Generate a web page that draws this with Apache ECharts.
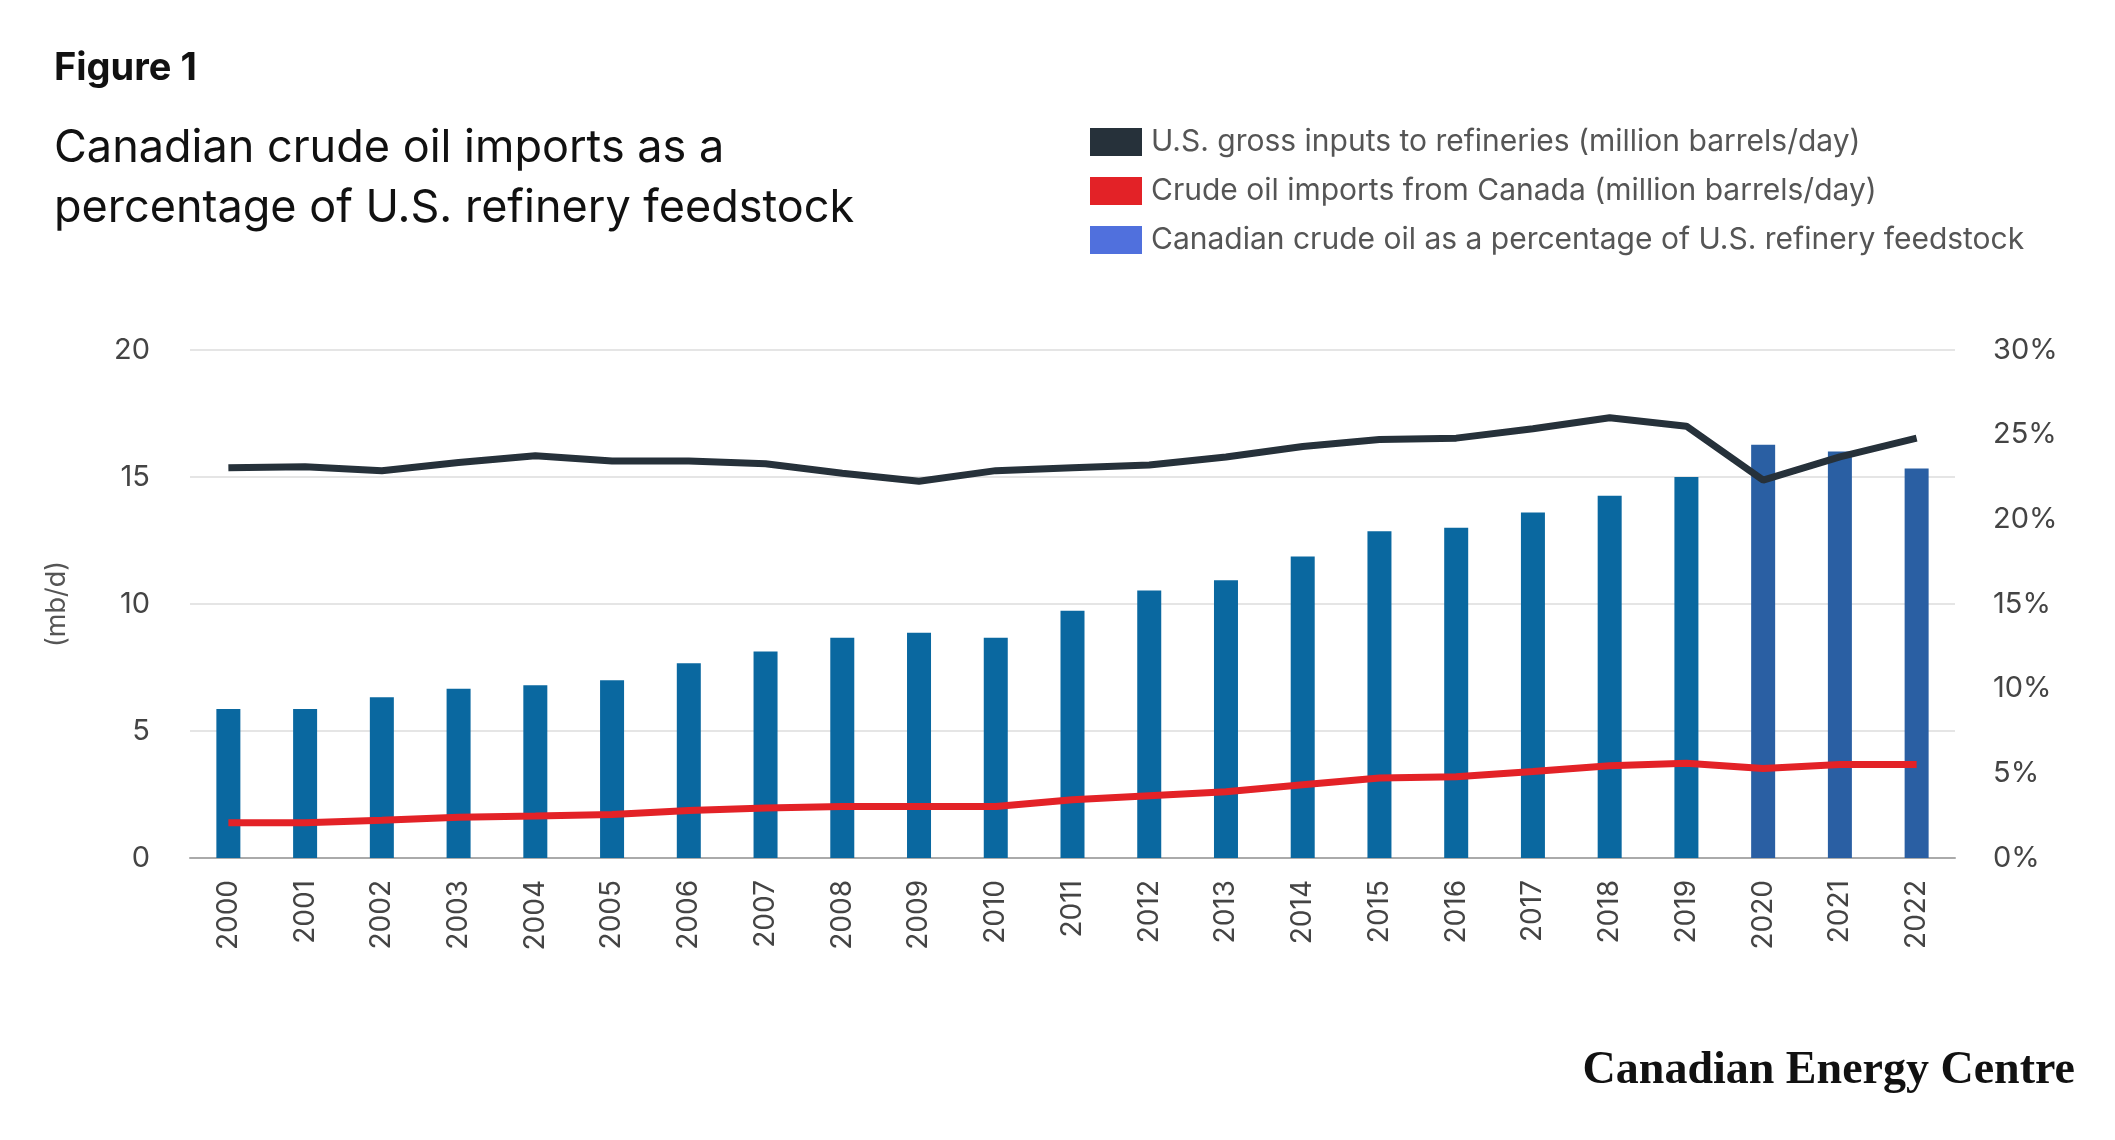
<!DOCTYPE html>
<html>
<head>
<meta charset="utf-8">
<script src="https://cdn.jsdelivr.net/npm/echarts@6/dist/echarts.min.js"></script>
<style>
html, body { margin: 0; padding: 0; background: #fff; }
#chart { width: 2115px; height: 1140px; }
</style>
</head>
<body>
<div id="chart"></div>
<script>
var years = ["2000","2001","2002","2003","2004","2005","2006","2007","2008","2009","2010","2011","2012","2013","2014","2015","2016","2017","2018","2019","2020","2021","2022"];
// U.S. gross inputs to refineries (mb/d)
var grossInputs = [15.36,15.4,15.25,15.57,15.84,15.63,15.63,15.52,15.15,14.83,15.25,15.36,15.47,15.79,16.2,16.48,16.53,16.9,17.33,17.0,14.88,15.79,16.53];
// crude oil imports from Canada (mb/d)
var canadaImports = [1.39,1.39,1.49,1.6,1.65,1.71,1.87,1.97,2.03,2.03,2.03,2.29,2.45,2.61,2.88,3.15,3.2,3.41,3.63,3.73,3.52,3.68,3.68];
// Canadian share of feedstock (%)
var sharePct = [8.8,8.8,9.5,10.0,10.2,10.5,11.5,12.2,13.0,13.3,13.0,14.6,15.8,16.4,17.8,19.3,19.5,20.4,21.4,22.5,24.4,24.0,23.0];

var chart = echarts.init(document.getElementById('chart'));
var font = 'Inter, "Noto Sans", sans-serif';

var option = {
    animation: false,
    textStyle: { fontFamily: font },
    graphic: [
        { type: 'text', left: 54, top: 50, style: { text: 'Figure 1', fontSize: 38, fontWeight: 'bold', fill: '#111', fontFamily: font } },
        { type: 'text', left: 54, top: 118, style: { text: 'Canadian crude oil imports as a\npercentage of U.S. refinery feedstock', fontSize: 45, lineHeight: 60, fill: '#111', fontFamily: font } },
        { type: 'text', right: 40, top: 1048, style: { text: 'Canadian Energy Centre', fontSize: 46, fontWeight: 'bold', fill: '#111', fontFamily: '"Liberation Serif", "DejaVu Serif", serif' } }
    ],
    legend: {
        orient: 'vertical',
        left: 1085,
        top: 122,
        itemWidth: 52,
        itemHeight: 28,
        itemGap: 19,
        icon: 'rect',
        textStyle: { fontSize: 30, color: '#555', fontFamily: font, padding: [0, 0, 0, 4] },
        data: ['U.S. gross inputs to refineries (million barrels/day)', 'Crude oil imports from Canada (million barrels/day)', 'Canadian crude oil as a percentage of U.S. refinery feedstock']
    },
    grid: { left: 190, right: 160, top: 350, bottom: 282 },
    xAxis: {
        type: 'category',
        data: years,
        axisTick: { show: false },
        axisLine: { lineStyle: { color: '#aaa', width: 2 } },
        axisLabel: { rotate: 90, fontSize: 28, color: '#444', margin: 22 }
    },
    yAxis: [{
        type: 'value', min: 0, max: 20, interval: 5,
        name: '(mb/d)', nameLocation: 'middle', nameGap: 120, nameRotate: 90,
        nameTextStyle: { fontSize: 27, color: '#555' },
        axisLabel: { fontSize: 29, color: '#444', margin: 40 },
        splitLine: { lineStyle: { color: '#ddd', width: 1.5 } }
    }, {
        type: 'value', min: 0, max: 30, interval: 5,
        axisLabel: { fontSize: 29, color: '#444', formatter: '{value}%', margin: 38 },
        splitLine: { show: false }
    }],
    series: [{
        name: 'Canadian crude oil as a percentage of U.S. refinery feedstock',
        type: 'bar', yAxisIndex: 1, barWidth: 24, z: 1,
        data: sharePct,
        itemStyle: { color: function (p) { return p.dataIndex >= 20 ? '#2a5fa3' : '#0a68a0'; } }
    }, {
        name: 'U.S. gross inputs to refineries (million barrels/day)',
        type: 'line', data: grossInputs, symbol: 'none', z: 3,
        lineStyle: { color: '#26313a', width: 7 }, itemStyle: { color: '#26313a' }
    }, {
        name: 'Crude oil imports from Canada (million barrels/day)',
        type: 'line', data: canadaImports, symbol: 'none', z: 3,
        lineStyle: { color: '#e32227', width: 7 }, itemStyle: { color: '#e32227' }
    }]
};
// legend order: black, red, blue
chart.setOption(option);
</script>
</body>
</html>
